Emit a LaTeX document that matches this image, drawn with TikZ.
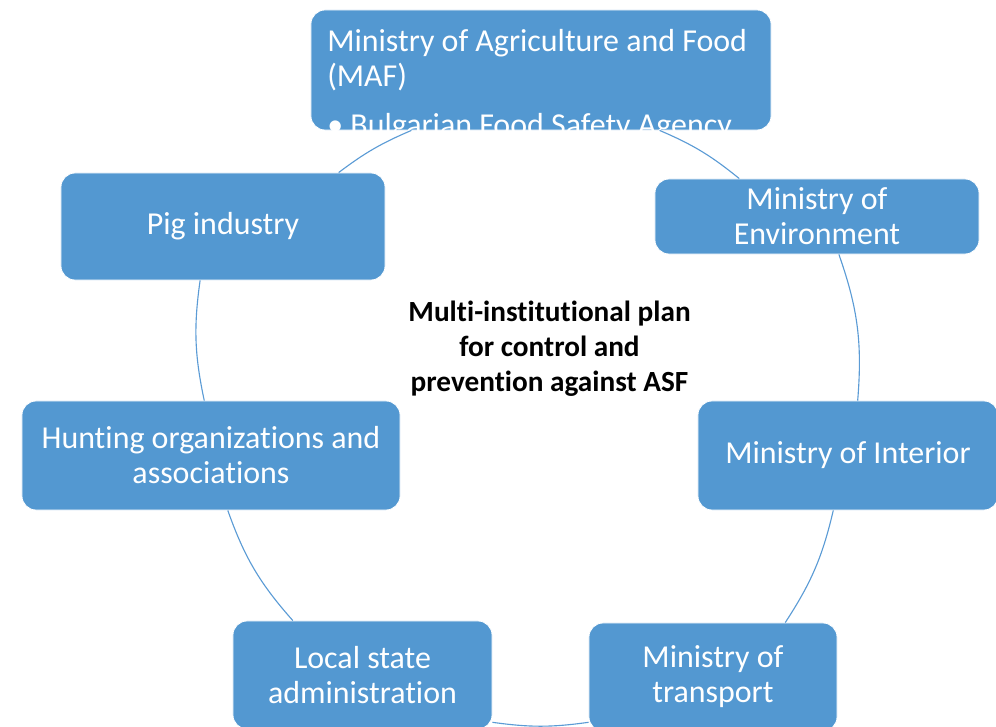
\documentclass[tikz,border=0pt]{standalone}
\usepackage{fontspec}
\setmainfont[Ligatures=NoCommon]{Carlito}
\usepackage{tikz}

\definecolor{boxblue}{RGB}{83,152,209}
\definecolor{ringblue}{RGB}{91,155,213}

\begin{document}
\begin{tikzpicture}
  [x=0.025cm,y=-0.025cm,
   box/.style={rectangle,rounded corners=0.35cm,fill=boxblue,draw=white,line width=0.6pt,
     text=white,align=center,inner sep=0pt,font=\fontsize{22.7}{24.9}\selectfont},
   ring/.style={draw=ringblue,line width=0.8pt}]

  \useasboundingbox (0,0) rectangle (996,727);

  \node[box,minimum width=11.5cm,minimum height=3cm] (n1) at (541,70) {};
  \node[style={text=white,align=left,anchor=north west,inner sep=0pt,font=\fontsize{22.7}{24.9}\selectfont}] (n2) at (327,29)
    {Ministry of Agriculture and Food\\(MAF)\\[0.35cm]\textbullet\ Bulgarian Food Safety Agency};
  \node[box,minimum width=8.1cm,minimum height=2.675cm] (n3) at (223,226.5) {Pig industry};
  \node[box,minimum width=9.45cm,minimum height=2.725cm] (n4) at (211,455.5) {Hunting organizations and\\associations};
  \node[box,minimum width=6.475cm,minimum height=2.7cm] (n5) at (362.5,675) {Local state\\administration};
  \node[box,minimum width=6.2cm,minimum height=2.7cm] (n6) at (713,677) {Ministry of\\transport};
  \node[box,minimum width=7.5cm,minimum height=2.725cm] (n7) at (848,455.5) {Ministry of Interior};
  \node[box,minimum width=8.1cm,minimum height=1.875cm] (n8) at (817,216.5) {Ministry of\\Environment};
  \node[style={align=center,font=\bfseries\fontsize{20.8}{24.9}\selectfont}] (n9) at (549.5,349)
    {Multi-institutional plan\\for control and\\prevention against ASF};
  \foreach \from/\to/\b in {n1.205/n3.25/7,n3.247/n4.97/10,n4.287/n5.142/11,n5.340/n6.200/8,n6.37/n7.255/10,n7.80/n8.300/12,n8.154/n1.333/8}
    \draw[ring] (\from) to[bend right=\b] (\to);
\end{tikzpicture}
\end{document}
